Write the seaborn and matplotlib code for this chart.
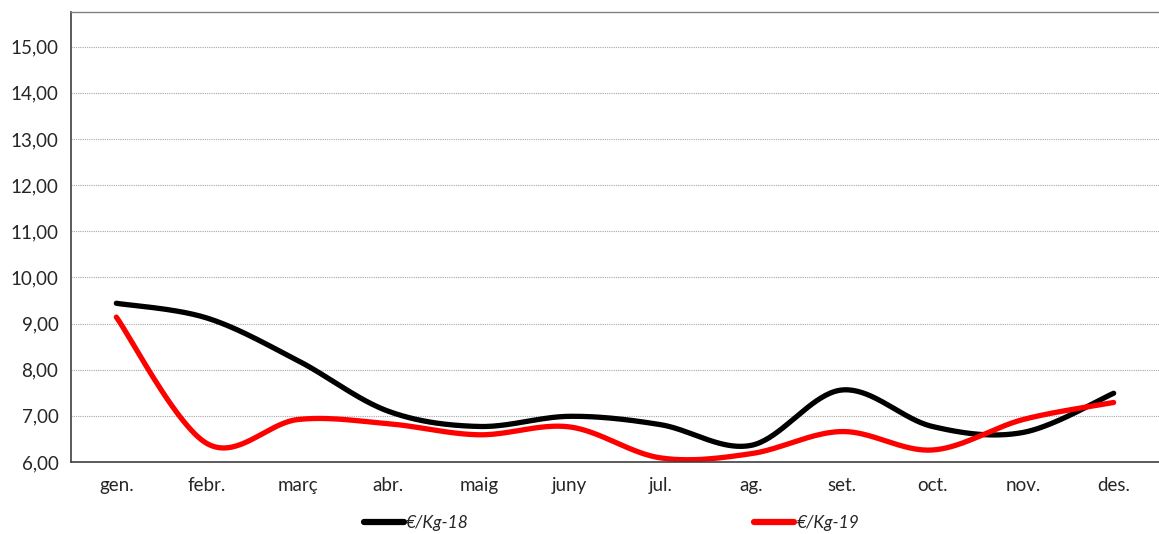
import numpy as np
import pandas as pd
import matplotlib
matplotlib.use("Agg")
import matplotlib.pyplot as plt
import seaborn as sns
from matplotlib.ticker import FuncFormatter, FixedLocator

# ----------------------------------------------------------
# DATA
# ----------------------------------------------------------
months = ["gen.", "febr.", "març", "abr.", "maig", "juny",
          "jul.", "ag.", "set.", "oct.", "nov.", "des."]
price_18 = [9.44, 9.12, 8.20, 7.10, 6.77, 6.99, 6.81, 6.36, 7.56, 6.77, 6.64, 7.49]
price_19 = [9.14, 6.40, 6.92, 6.83, 6.59, 6.76, 6.09, 6.18, 6.66, 6.26, 6.92, 7.29]
series_names = ["€/Kg-18", "€/Kg-19"]
series_colors = ["#000000", "#ff0000"]
y_ticks = [6, 7, 8, 9, 10, 11, 12, 13, 14, 15]


# ----------------------------------------------------------
# SMOOTH LINE (like the spreadsheet "smoothed line" option)
# ----------------------------------------------------------
def smooth_curve(values, steps=40):
    pts = np.column_stack([np.arange(len(values)), np.asarray(values, float)])
    xs, ys = [], []
    for i in range(len(pts) - 1):
        p0 = pts[max(i - 1, 0)]
        p1 = pts[i]
        p2 = pts[i + 1]
        p3 = pts[min(i + 2, len(pts) - 1)]
        c1 = p1 + (p2 - p0) / 6.0
        c2 = p2 - (p3 - p1) / 6.0
        t = np.linspace(0, 1, steps, endpoint=(i == len(pts) - 2))[:, None]
        seg = ((1 - t) ** 3) * p1 + 3 * ((1 - t) ** 2) * t * c1 \
            + 3 * (1 - t) * t ** 2 * c2 + t ** 3 * p2
        xs.append(seg[:, 0])
        ys.append(seg[:, 1])
    return np.concatenate(xs), np.concatenate(ys)


frames = []
for name, vals in zip(series_names, [price_18, price_19]):
    sx, sy = smooth_curve(vals)
    frames.append(pd.DataFrame({"x": sx, "price": sy, "serie": name}))
plot_df = pd.concat(frames, ignore_index=True)


# ----------------------------------------------------------
# FIGURE
# ----------------------------------------------------------
sns.set_style("white")
plt.rcParams["font.family"] = ["Lato", "DejaVu Sans"]

W, H = 1159, 534
fig = plt.figure(figsize=(W / 100, H / 100), dpi=100)
ax = fig.add_axes([71 / W, (H - 462) / H, (W - 71) / W, 450 / H])

sns.lineplot(
    data=plot_df, x="x", y="price", hue="serie",
    palette=dict(zip(series_names, series_colors)),
    linewidth=3.8, sort=False, estimator=None, ax=ax, legend=False
)
for ln in ax.get_lines():
    ln.set_solid_capstyle("round")

px_per_unit = (462 - 46.7) / 9
ax.set_ylim(6, 6 + 450 / px_per_unit)
ax.set_xlim(-0.5, -0.5 + (W - 71) / 91.0)

ax.yaxis.set_major_locator(FixedLocator(y_ticks))
ax.yaxis.set_major_formatter(FuncFormatter(lambda v, p: f"{v:.2f}".replace(".", ",")))
ax.yaxis.grid(True, color="#a8a8a8", linestyle=(0, (1, 1)), linewidth=0.8)
ax.set_axisbelow(True)

# ticks between months, labels centered on months
ax.set_xticks(np.arange(len(months) + 1) - 0.5)
ax.set_xticklabels([])
ax.set_xticks(np.arange(len(months)), minor=True)
ax.set_xticklabels(months, minor=True)
ax.tick_params(axis="x", which="major", direction="inout", length=9, width=1, color="#404040")
ax.tick_params(axis="x", which="minor", length=0, pad=11, labelsize=13.5)
ax.tick_params(axis="y", direction="out", length=6, width=1, color="#404040",
               labelsize=13.5, pad=3)

ax.set_xlabel("")
ax.set_ylabel("")

for side in ["left", "bottom"]:
    ax.spines[side].set_color("#404040")
    ax.spines[side].set_linewidth(1.2)
ax.spines["top"].set_color("#808080")
ax.spines["top"].set_linewidth(1.0)
ax.spines["right"].set_visible(False)

# legend below the chart
handles = [plt.Line2D([], [], color=c, linewidth=4.5, solid_capstyle="round")
           for c in series_colors]
leg = fig.legend(
    handles, series_names, loc="center", bbox_to_anchor=(611.5 / W, 1 - 523 / H),
    ncol=2, frameon=False, handlelength=2.3, handletextpad=0.15,
    columnspacing=16.4, prop={"style": "italic", "size": 12.5}
)

fig.savefig("out.png", dpi=100)
